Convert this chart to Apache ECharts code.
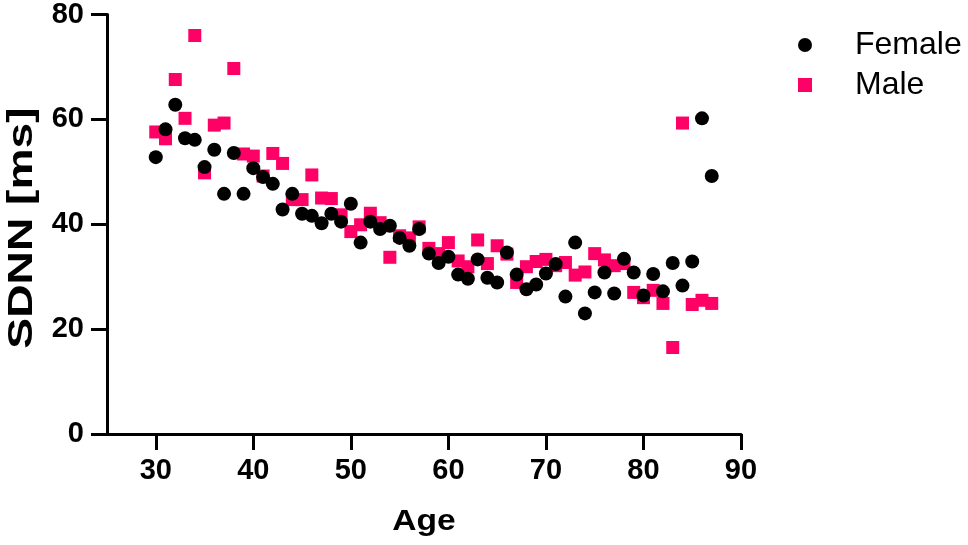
<!DOCTYPE html>
<html>
<head>
<meta charset="utf-8">
<script src="https://cdn.jsdelivr.net/npm/echarts@6/dist/echarts.min.js"></script>
<style>
  html, body { margin: 0; padding: 0; background: #fff; }
  #chart { width: 968px; height: 545px; }
</style>
</head>
<body>
<div id="chart"></div>
<script>
// ages 30..87, one point per age for each group
const ages = [30,31,32,33,34,35,36,37,38,39,40,41,42,43,44,45,46,47,48,49,50,51,52,53,54,55,56,57,58,59,
  60,61,62,63,64,65,66,67,68,69,70,71,72,73,74,75,76,77,78,79,80,81,82,83,84,85,86,87];

const femaleSdnn = [52.8,58.1,62.8,56.4,56.1,50.9,54.2,45.8,53.6,45.8,50.7,49.0,47.7,42.8,45.8,42.0,41.6,40.2,42.0,40.5,
  43.9,36.5,40.5,39.1,39.7,37.4,35.9,39.1,34.4,32.6,33.8,30.4,29.6,33.3,29.8,28.9,34.6,30.4,27.6,28.5,
  30.6,32.4,26.2,36.5,23.0,27.0,30.8,26.8,33.4,30.8,26.4,30.5,27.2,32.6,28.3,32.9,60.2,49.2];

const maleSdnn = [57.6,56.3,67.6,60.2,76.0,49.8,58.9,59.3,69.7,53.4,53.0,49.2,53.5,51.6,44.7,44.7,49.4,45.0,44.9,41.8,
  38.6,39.9,42.1,40.3,33.7,37.8,37.4,39.5,35.4,34.4,36.5,33.0,31.9,37.0,32.5,35.9,34.3,28.9,31.9,32.9,
  33.3,32.1,32.7,30.3,30.9,34.4,33.2,32.1,32.5,27.0,26.0,27.4,24.9,16.5,59.3,24.7,25.5,24.9];

const xTicks = [30, 40, 50, 60, 70, 80, 90];

const font = 'Liberation Sans, Arial, sans-serif';
const pink = '#ff0066';

const chart = echarts.init(document.getElementById('chart'));

const option = {
  animation: false,
  backgroundColor: '#fff',
  grid: {
    left: 107,
    right: 227,
    top: 13,
    bottom: 111
  },
  // axis titles: the source uses a stretched bold face, so draw them as scaled text
  graphic: [
    {
      type: 'text',
      x: 22,
      y: 228,
      rotation: Math.PI / 2,
      scaleX: 1.32,
      style: {
        text: 'SDNN [ms]',
        fontFamily: font,
        fontWeight: 'bold',
        fontSize: 35,
        fill: '#000',
        align: 'center',
        verticalAlign: 'middle'
      }
    },
    {
      type: 'text',
      x: 424,
      y: 522,
      scaleX: 1.12,
      style: {
        text: 'Age',
        fontFamily: font,
        fontWeight: 'bold',
        fontSize: 30,
        fill: '#000',
        align: 'center',
        verticalAlign: 'middle'
      }
    }
  ],
  legend: {
    left: 793,
    top: 24,
    orient: 'vertical',
    itemWidth: 14,
    itemHeight: 14,
    itemGap: 8,
    textStyle: {
      fontFamily: font,
      fontSize: 32,
      color: '#000',
      padding: [0, 0, 0, 38]
    },
    data: [
      { name: 'Female', icon: 'circle' },
      { name: 'Male', icon: 'rect' }
    ]
  },
  xAxis: {
    type: 'value',
    min: 25,
    max: 90,
    axisLine: {
      onZero: false,
      lineStyle: { color: '#000', width: 3 }
    },
    axisTick: {
      length: 16,
      lineStyle: { color: '#000', width: 3 },
      customValues: xTicks
    },
    axisLabel: {
      margin: 22,
      fontFamily: font,
      fontWeight: 'bold',
      fontSize: 29,
      color: '#000',
      customValues: xTicks
    },
    splitLine: { show: false }
  },
  yAxis: {
    type: 'value',
    min: 0,
    max: 80,
    interval: 20,
    axisLine: {
      show: true,
      lineStyle: { color: '#000', width: 3 }
    },
    axisTick: {
      show: true,
      length: 16,
      lineStyle: { color: '#000', width: 3 }
    },
    axisLabel: {
      margin: 23,
      fontFamily: font,
      fontWeight: 'bold',
      fontSize: 29,
      color: '#000'
    },
    splitLine: { show: false }
  },
  series: [
    {
      name: 'Female',
      type: 'scatter',
      symbol: 'circle',
      symbolSize: 14,
      itemStyle: { color: '#000', opacity: 1 },
      data: ages.map((a, i) => [a, femaleSdnn[i]]),
      z: 3
    },
    {
      name: 'Male',
      type: 'scatter',
      symbol: 'rect',
      symbolSize: 13,
      itemStyle: { color: pink, opacity: 1 },
      data: ages.map((a, i) => [a, maleSdnn[i]]),
      z: 2
    }
  ]
};

chart.setOption(option);
</script>
</body>
</html>
